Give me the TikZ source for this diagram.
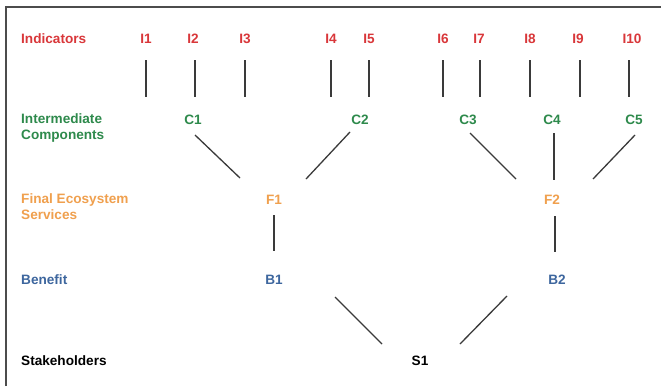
\documentclass[tikz,border=0pt]{standalone}
\usepackage{fontspec}
\setmainfont{Liberation Sans}
\definecolor{indred}{HTML}{D9373A}
\definecolor{compgreen}{HTML}{2E8A4C}
\definecolor{servorange}{HTML}{F0A04E}
\definecolor{benblue}{HTML}{3D669E}
\definecolor{linegray}{HTML}{3A3A3A}
\tikzset{
  lbl/.style={font=\fontsize{13.6}{16}\selectfont\bfseries, inner sep=0pt, anchor=base west, align=left},
  nd/.style={font=\fontsize{13.6}{16}\selectfont\bfseries, inner sep=0pt, anchor=base},
  ind/.style={nd, text=indred},
  comp/.style={nd, text=compgreen},
  serv/.style={nd, text=servorange},
  ben/.style={nd, text=benblue},
  stk/.style={nd, text=black},
  link/.style={draw=linegray, line width=1.3pt},
  frameline/.style={draw=gray!60!black, line width=1.6pt}
}
\begin{document}
\begin{tikzpicture}[x=1pt,y=-1pt]
\useasboundingbox (0,0) rectangle (661,386);
\fill[white] (0,0) rectangle (661,386);
\coordinate (frA) at (6,386);
\coordinate (frB) at (6,7);
\coordinate (frC) at (661,7);
\draw[frameline] (frA) -- (frB) -- (frC);

% row labels
\node[lbl, text=indred] (Lind) at (21,43) {Indicators};
\node[lbl, text=compgreen, anchor=north west] (Lcomp) at (21,113) {Intermediate\\Components};
\node[lbl, text=servorange, anchor=north west] (Lserv) at (21,193) {Final Ecosystem\\Services};
\node[lbl, text=benblue] (Lben) at (21,284) {Benefit};
\node[lbl, text=black] (Lstk) at (21,365) {Stakeholders};

% indicators
\node[ind] (I1) at (146,43) {I1};
\node[ind] (I2) at (193,43) {I2};
\node[ind] (I3) at (245,43) {I3};
\node[ind] (I4) at (331,43) {I4};
\node[ind] (I5) at (369,43) {I5};
\node[ind] (I6) at (443,43) {I6};
\node[ind] (I7) at (479,43) {I7};
\node[ind] (I8) at (530,43) {I8};
\node[ind] (I9) at (578,43) {I9};
\node[ind] (I10) at (632,43) {I10};

% components
\node[comp] (C1) at (193,124) {C1};
\node[comp] (C2) at (360,124) {C2};
\node[comp] (C3) at (468,124) {C3};
\node[comp] (C4) at (552,124) {C4};
\node[comp] (C5) at (634,124) {C5};

% services
\node[serv] (F1) at (274,204) {F1};
\node[serv] (F2) at (552,204) {F2};

% benefits
\node[ben] (B1) at (274,284) {B1};
\node[ben] (B2) at (557,284) {B2};

% stakeholders
\node[stk] (S1) at (420,365) {S1};

% indicator stubs
\foreach \n/\x in {I1/146,I2/195,I3/245,I4/331,I5/369,I6/443,I7/480,I8/530,I9/580,I10/629}{
  \coordinate (\n top) at (\x,60);
  \coordinate (\n bot) at (\x,97);
  \draw[link] (\n top) -- (\n bot);
}

% components to services
\coordinate (c1a) at (195,135); \coordinate (c1b) at (240,178);
\coordinate (c2a) at (350,132); \coordinate (c2b) at (306,179);
\coordinate (c3a) at (470,133); \coordinate (c3b) at (516,179);
\coordinate (c4a) at (554,133); \coordinate (c4b) at (554,180);
\coordinate (c5a) at (635,135); \coordinate (c5b) at (593,179);
\draw[link] (c1a) -- (c1b);
\draw[link] (c2a) -- (c2b);
\draw[link] (c3a) -- (c3b);
\draw[link] (c4a) -- (c4b);
\draw[link] (c5a) -- (c5b);

% services to benefits
\coordinate (f1a) at (274,215); \coordinate (f1b) at (274,251);
\coordinate (f2a) at (555,216); \coordinate (f2b) at (555,252);
\draw[link] (f1a) -- (f1b);
\draw[link] (f2a) -- (f2b);

% benefits to stakeholder
\coordinate (b1a) at (335,297); \coordinate (b1b) at (382,344);
\coordinate (b2a) at (507,296); \coordinate (b2b) at (460,344);
\draw[link] (b1a) -- (b1b);
\draw[link] (b2a) -- (b2b);
\end{tikzpicture}
\end{document}
